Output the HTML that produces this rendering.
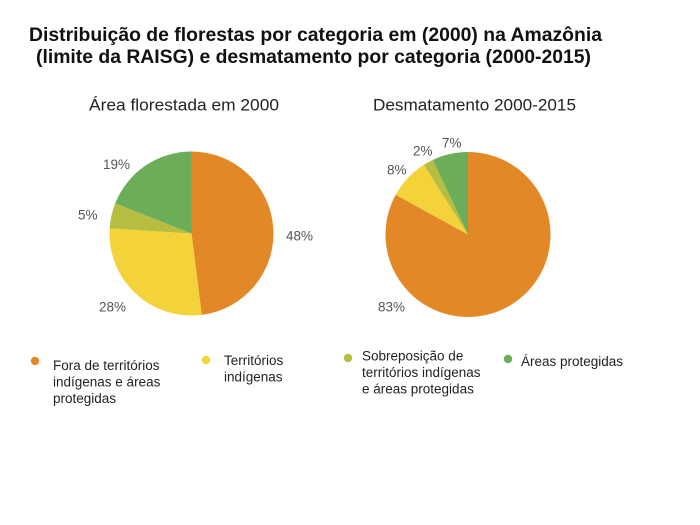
<!DOCTYPE html>
<html>
<head>
<meta charset="utf-8">
<style>
  html, body { margin: 0; padding: 0; background: #ffffff; }
  svg { display: block; }
  .t { font-family: "Liberation Sans", Arial, sans-serif; font-weight: bold; fill: #111; font-size: 19.5px; }
  .s { font-family: "Liberation Sans", Arial, sans-serif; fill: #222; font-size: 17px; }
  .p { font-family: "Liberation Sans", Arial, sans-serif; fill: #555; font-size: 13.5px; }
  .l { font-family: "Liberation Sans", Arial, sans-serif; fill: #222; font-size: 13.5px; }
</style>
</head>
<body>
<svg width="700" height="525" viewBox="0 0 700 525" xmlns="http://www.w3.org/2000/svg">
  <rect width="700" height="525" fill="#ffffff"/>

  <!-- Title -->
  <text class="t" x="29" y="41" textLength="573" lengthAdjust="spacingAndGlyphs">Distribuição de florestas por categoria em (2000) na Amazônia</text>
  <text class="t" x="36" y="63" textLength="555" lengthAdjust="spacingAndGlyphs">(limite da RAISG) e desmatamento por categoria (2000-2015)</text>

  <!-- Subtitles -->
  <text class="s" x="89" y="110.5" textLength="190" lengthAdjust="spacingAndGlyphs">Área florestada em 2000</text>
  <text class="s" x="373" y="110.5" textLength="203" lengthAdjust="spacingAndGlyphs">Desmatamento 2000-2015</text>

  <!-- Left pie -->
  <path d="M191.5 233.5 L191.5 151.5 A82 82 0 0 1 201.78 314.85 Z" fill="#E38826"/>
  <path d="M191.5 233.5 L201.78 314.85 A82 82 0 0 1 109.66 228.35 Z" fill="#F4D23A"/>
  <path d="M191.5 233.5 L109.66 228.35 A82 82 0 0 1 115.26 203.31 Z" fill="#B6BD40"/>
  <path d="M191.5 233.5 L115.26 203.31 A82 82 0 0 1 191.5 151.5 Z" fill="#6BAD58"/>

  <text class="p" x="103" y="169">19%</text>
  <text class="p" x="78" y="219.5">5%</text>
  <text class="p" x="286" y="240.5">48%</text>
  <text class="p" x="99" y="311.5">28%</text>

  <!-- Right pie -->
  <path d="M468 234.5 L468 152 A82.5 82.5 0 1 1 395.70 194.76 Z" fill="#E38826"/>
  <path d="M468 234.5 L395.70 194.76 A82.5 82.5 0 0 1 423.79 164.84 Z" fill="#F4D23A"/>
  <path d="M468 234.5 L423.79 164.84 A82.5 82.5 0 0 1 432.87 159.85 Z" fill="#B6BD40"/>
  <path d="M468 234.5 L432.87 159.85 A82.5 82.5 0 0 1 468 152 Z" fill="#6BAD58"/>

  <text class="p" x="442" y="147.5">7%</text>
  <text class="p" x="413" y="155.5">2%</text>
  <text class="p" x="387" y="174.5">8%</text>
  <text class="p" x="378" y="311.5">83%</text>

  <!-- Legend -->
  <circle cx="35" cy="361" r="4.2" fill="#E38826"/>
  <text class="l" x="53" y="370">Fora de territórios</text>
  <text class="l" x="53" y="386.5">indígenas e áreas</text>
  <text class="l" x="53" y="403">protegidas</text>

  <circle cx="206" cy="360" r="4.2" fill="#F4D23A"/>
  <text class="l" x="224" y="365">Territórios</text>
  <text class="l" x="224" y="381.5">indígenas</text>

  <circle cx="348" cy="358" r="4.2" fill="#B6BD40"/>
  <text class="l" x="362" y="360.5">Sobreposição de</text>
  <text class="l" x="362" y="377">territórios indígenas</text>
  <text class="l" x="362" y="393.5">e áreas protegidas</text>

  <circle cx="508" cy="359" r="4.2" fill="#6BAD58"/>
  <text class="l" x="521" y="366">Áreas protegidas</text>
</svg>
</body>
</html>
